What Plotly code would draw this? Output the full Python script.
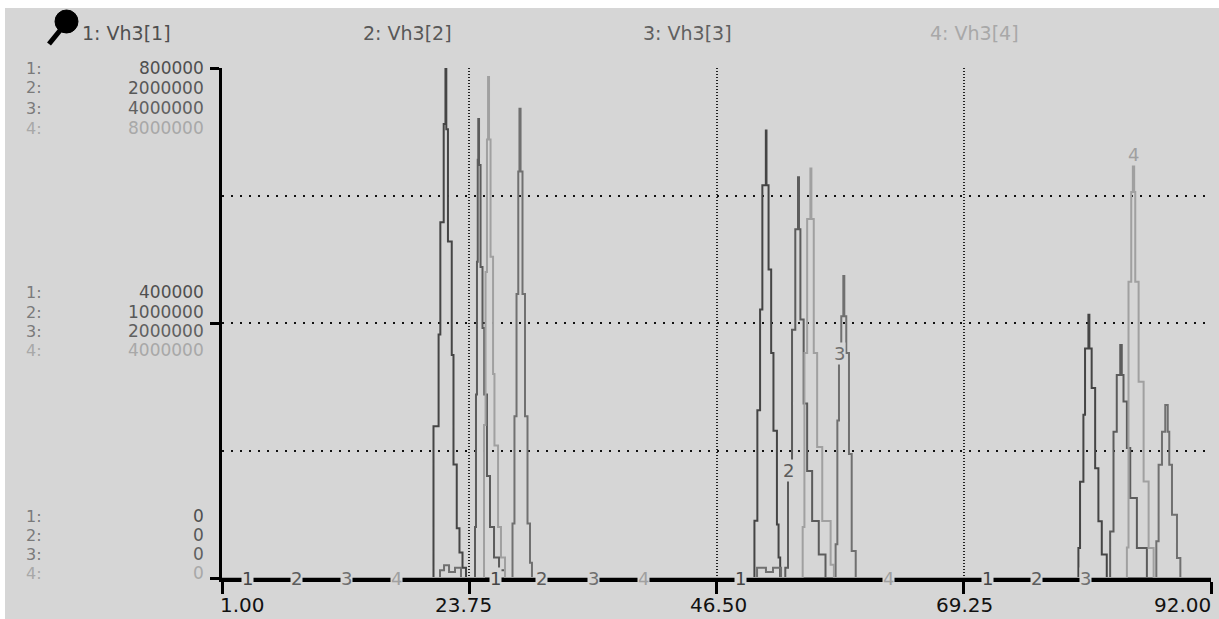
import numpy as np
import plotly.graph_objects as go

# ---------------- data ----------------
series_names = ["1: Vh3[1]", "2: Vh3[2]", "3: Vh3[3]", "4: Vh3[4]"]
y_max = [800000, 2000000, 4000000, 8000000]

x_ticks = [1, 23.75, 46.5, 69.25, 92]
x_tick_labels = ["1.00", "23.75", "46.50", "69.25", "92.00"]

s1_t = [1, 20.46, 20.93, 21.09, 21.40, 21.56, 21.64, 21.79, 22.14, 22.30, 22.60, 22.85, 23.13, 23.45,
        49.99, 50.26, 50.51, 50.72, 51.04, 51.10, 51.29, 51.53, 51.74, 52.06, 52.21, 52.36,
        79.80, 79.95, 80.26, 80.41, 80.72, 80.81, 81.02, 81.34, 81.64, 81.95, 82.41, 92]
s1_v = [0, 238000, 382000, 558000, 712000, 800000, 704000, 528000, 350000, 178000, 78000, 40000, 16000, 0,
        90000, 263000, 421000, 616000, 702000, 616000, 484000, 353000, 231000, 84000, 32000, 0,
        47000, 151000, 256000, 360000, 413000, 360000, 298000, 172000, 89000, 37000, 0, 0]

s2_t = [1, 24.28, 24.37, 24.46, 24.53, 24.58, 24.65, 24.79, 24.97, 25.13, 25.38, 25.66, 26.03, 26.49, 27.04,
        52.83, 53.08, 53.45, 53.75, 54.00, 54.09, 54.22, 54.52, 54.84, 55.30, 55.91, 56.53,
        82.72, 83.03, 83.33, 83.65, 83.79, 83.95, 84.26, 84.57, 85.18, 86.10, 92]
s2_v = [0, 200000, 720000, 1240000, 1640000, 1800000, 1620000, 1220000, 980000, 720000, 400000, 200000, 80000, 30000, 0,
        40000, 420000, 974000, 1368000, 1572000, 1368000, 1014000, 684000, 420000, 224000, 92000, 0,
        182000, 574000, 796000, 914000, 796000, 692000, 510000, 314000, 118000, 0, 0]

s3_t = [1, 21.06, 21.43, 21.89, 22.44, 22.99,
        27.73, 27.91, 28.10, 28.26, 28.37, 28.47, 28.65, 28.88, 29.11, 29.34, 29.52,
        50.23, 51.05, 51.70, 52.44,
        57.46, 57.62, 57.77, 57.98, 58.17, 58.26, 58.44, 58.69, 58.94, 59.31,
        86.97, 87.18, 87.49, 87.79, 88.02, 88.16, 88.41, 88.87, 89.18, 92]
s3_v = [0, 60000, 100000, 48000, 80000, 0,
        428000, 1268000, 2228000, 3188000, 3680000, 3188000, 2228000, 1268000, 428000, 120000, 0,
        80000, 48000, 80000, 0,
        264000, 1236000, 1764000, 2052000, 2368000, 2052000, 1764000, 972000, 212000, 0,
        288000, 888000, 1148000, 1356000, 1148000, 888000, 496000, 156000, 0, 0]

s4_t = [1, 25.11, 25.25, 25.38, 25.48, 25.57, 25.71, 25.94, 26.07, 26.40, 26.67, 27.04,
        54.43, 54.59, 54.84, 55.14, 55.23, 55.45, 55.76, 56.23, 57.00, 57.30,
        84.26, 84.41, 84.66, 84.81, 84.93, 85.03, 85.34, 85.80, 86.26, 86.72, 92]
s4_v = [0, 2400000, 4800000, 6880000, 7860000, 6880000, 5040000, 3200000, 2080000, 800000, 320000, 0,
        800000, 3528000, 5632000, 6424000, 5632000, 3528000, 2056000, 896000, 208000, 0,
        480000, 4648000, 6056000, 6640000, 6056000, 4648000, 3080000, 1512000, 472000, 0, 0]

# curve number labels (time, series index)
label_t = [3.39, 7.90, 12.50, 17.10, 26.12, 30.44, 35.14, 39.74,
           48.75, 53.17, 57.86, 62.28, 71.48, 75.90, 80.41, 84.91]
label_series = [1, 2, 3, 4] * 4

# ---------------- styling ----------------
W, H = 1219, 619
ML, MR, MT, MB = 222, 8, 68, 41
PW = W - ML - MR
PH = H - MT - MB
BG = "#d6d6d6"
COLORS = ["#454545", "#5c5c5c", "#707070", "#a0a0a0"]
TXT = ["#4f4f4f", "#585858", "#606060", "#a8a8a8"]
FONT = "DejaVu Sans"


def px(x):
    return (x - ML) / PW


def py(y):
    return (H - MB - y) / PH


ts = [s1_t, s2_t, s3_t, s4_t]
vs = [s1_v, s2_v, s3_v, s4_v]
yrefs = ["y", "y2", "y3", "y4"]

fig = go.Figure()
for k in reversed(range(4)):
    fig.add_trace(go.Scatter(
        x=ts[k], y=vs[k], mode="lines",
        line=dict(color=COLORS[k], width=2, shape="hv"),
        yaxis=yrefs[k], hoverinfo="skip", showlegend=False))

ann = []
# header
header_x = [80, 361, 641, 928]
for k in range(4):
    ann.append(dict(text=series_names[k], xref="paper", yref="paper",
                    x=px(header_x[k]), y=py(33), xanchor="left", yanchor="middle",
                    showarrow=False, font=dict(family=FONT, size=19, color=TXT[k])))

# stacked y labels
groups = [([68, 88, 108, 128], 1.0), ([292, 312, 331, 350], 0.5), ([516, 535, 554, 573], 0.0)]
for rows, f in groups:
    for k in range(4):
        ann.append(dict(text=f"{k + 1}:", xref="paper", yref="paper",
                        x=px(24), y=py(rows[k]), xanchor="left", yanchor="middle",
                        showarrow=False, font=dict(family=FONT, size=16,
                                                   color=TXT[k] if k == 3 else "#7a7a7a")))
        ann.append(dict(text=str(int(y_max[k] * f)), xref="paper", yref="paper",
                        x=px(206), y=py(rows[k]), xanchor="right", yanchor="middle",
                        showarrow=False, font=dict(family=FONT, size=17, color=TXT[k])))

# x tick labels
anchors = ["left", "center", "center", "center", "right"]
shifts = [-4, -6, 2, 1, 2]
for xv, lab, a, s in zip(x_ticks, x_tick_labels, anchors, shifts):
    ann.append(dict(text=lab, xref="x", yref="paper", x=xv, y=py(605), xanchor=a,
                    yanchor="middle", xshift=s, showarrow=False,
                    font=dict(family=FONT, size=20, color="#111111")))

# curve labels
for t, s in zip(label_t, label_series):
    k = s - 1
    tt = np.array(ts[k])
    idx = int(np.searchsorted(tt, t, side="right") - 1)
    val = vs[k][idx]
    ann.append(dict(text=str(s), x=t, y=val, xref="x", yref=yrefs[k],
                    xanchor="center", yanchor="middle", showarrow=False,
                    bgcolor=BG, borderpad=0,
                    font=dict(family=FONT, size=18, color=COLORS[k])))

shapes = [
    dict(type="rect", xref="paper", yref="paper", x0=px(5), x1=px(W), y0=py(8), y1=py(H),
         fillcolor=BG, line=dict(width=0), layer="below"),
    # key icon
    dict(type="line", xref="paper", yref="paper", x0=px(62), y0=py(28), x1=px(49), y1=py(44),
         line=dict(color="black", width=5)),
    dict(type="circle", xref="paper", yref="paper", x0=px(55), x1=px(78), y0=py(10), y1=py(33),
         fillcolor="black", line=dict(color="black", width=1)),
]

grid_common = dict(gridcolor="#111111", gridwidth=2, griddash="2px,7px")

fig.update_layout(
    width=W, height=H,
    margin=dict(l=ML, r=MR, t=MT, b=MB, pad=0),
    paper_bgcolor="white", plot_bgcolor=BG,
    showlegend=False,
    xaxis=dict(range=[1, 92], tickvals=x_ticks, showticklabels=False,
               ticks="outside", ticklen=12, tickwidth=3, tickcolor="black",
               showline=True, linecolor="black", linewidth=4,
               showgrid=True, gridcolor="#222222", gridwidth=2, griddash="1px,2px",
               zeroline=False, fixedrange=True),
    yaxis=dict(range=[0, y_max[0]], tickvals=[0, y_max[0] / 2, y_max[0]], showticklabels=False,
               ticks="outside", ticklen=9, tickwidth=3, tickcolor="black",
               showline=True, linecolor="black", linewidth=3,
               showgrid=True, zeroline=False, fixedrange=True,
               minor=dict(tickvals=[y_max[0] / 4, 3 * y_max[0] / 4], showgrid=True, ticks="", **grid_common),
               **grid_common),
    yaxis2=dict(range=[0, y_max[1]], overlaying="y", visible=False, fixedrange=True),
    yaxis3=dict(range=[0, y_max[2]], overlaying="y", visible=False, fixedrange=True),
    yaxis4=dict(range=[0, y_max[3]], overlaying="y", visible=False, fixedrange=True),
    annotations=ann,
    shapes=shapes,
)

fig.write_html("out.html")
